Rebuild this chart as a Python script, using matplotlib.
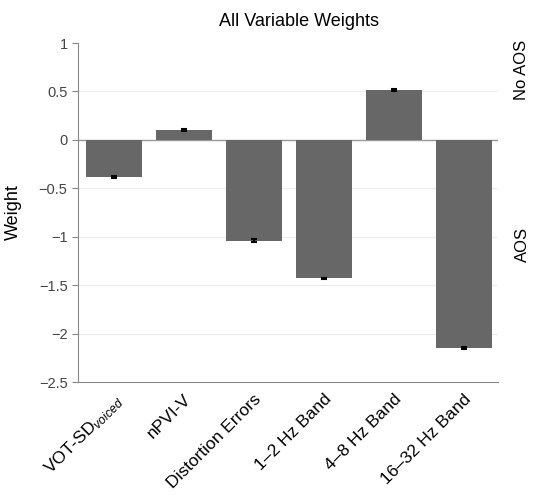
import matplotlib
matplotlib.use("Agg")
import matplotlib.pyplot as plt
import numpy as np

plt.rcParams["font.family"] = ["Liberation Sans", "DejaVu Sans"]
plt.rcParams["mathtext.fontset"] = "custom"
plt.rcParams["mathtext.it"] = "Liberation Sans:italic"
plt.rcParams["mathtext.rm"] = "Liberation Sans"

labels = ["VOT-SD$_{\\mathit{voiced}}$", "nPVI-V", "Distortion Errors",
          "1\u20132 Hz Band", "4\u20138 Hz Band", "16\u201332 Hz Band"]
weights = [-0.38, 0.105, -1.04, -1.43, 0.515, -2.15]
errors = [0.012, 0.012, 0.015, 0.008, 0.012, 0.012]
yticks = [1, 0.5, 0, -0.5, -1, -1.5, -2, -2.5]

fig = plt.figure(figsize=(5.41, 4.96), dpi=100)
ax = fig.add_axes([78 / 541, 1 - 382 / 496, (498 - 78) / 541, (382 - 43) / 496])

x = np.arange(len(labels))
for y in yticks[1:-1]:
    if y != 0:
        ax.axhline(y, color="#ececec", lw=0.8, zorder=0)
ax.axhline(0, color="#999999", lw=1.0, zorder=1)
ax.bar(x, weights, width=0.8, color="#676767", zorder=2)
ax.errorbar(x, weights, yerr=errors, fmt="none", ecolor="black",
            elinewidth=1.5, capsize=2, capthick=1.5, zorder=3)

ax.set_xlim(-0.51, 5.49)
ax.set_ylim(-2.5, 1)
ax.set_yticks(yticks)
ax.set_yticklabels([f"{t:g}".replace("-", "\u2212") if t < 0 else f"{t:g}" for t in yticks])
ax.set_xticks(x)
ax.set_xticklabels(labels, rotation=45, ha="right", rotation_mode="anchor", fontsize=12.5)
ax.tick_params(axis="x", length=0, pad=7)
ax.tick_params(axis="y", length=4, color="#888888", labelsize=10.5, labelcolor="#444444")
for s in ["top", "right"]:
    ax.spines[s].set_visible(False)
for s in ["left", "bottom"]:
    ax.spines[s].set_color("#888888")
ax.set_ylabel("Weight", fontsize=13, labelpad=12)

fig.text(299 / 541, 1 - 22 / 496, "All Variable Weights", ha="center", va="center", fontsize=13)
fig.text(522 / 541, 1 - 70 / 496, "No AOS", rotation=90, ha="center", va="center", fontsize=12)
fig.text(522 / 541, 1 - 245 / 496, "AOS", rotation=90, ha="center", va="center", fontsize=12)

fig.savefig("out.png", dpi=100)
